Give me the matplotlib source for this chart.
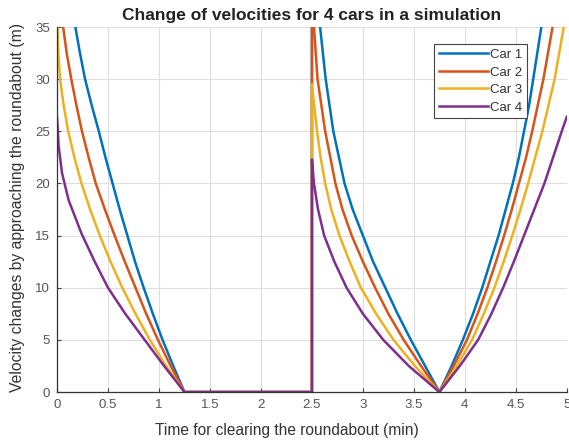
import matplotlib
matplotlib.use("Agg")
import matplotlib.pyplot as plt

# ---- data (time in min, value in m) ----
# Car 1
car1_t = [0.00, 0.18, 0.225, 0.275, 0.34, 0.41, 0.475, 0.545, 0.615, 0.69, 0.765, 0.85, 0.94, 1.035, 1.14, 1.25,
          2.50,
          2.50, 2.58, 2.635, 2.71, 2.82, 2.90, 3.00, 3.10, 3.22, 3.34, 3.47, 3.61, 3.75,
          3.87, 3.98, 4.08, 4.17, 4.25, 4.33, 4.40, 4.47, 4.53, 4.58, 4.63, 4.67, 4.75, 5.00]
car1_v = [46.0, 35.0, 32.5, 30.0, 27.5, 25.0, 22.5, 20.0, 17.5, 15.0, 12.5, 10.0, 7.5, 5.0, 2.5, 0.0,
          0.0,
          41.0, 35.0, 30.0, 25.0, 20.0, 17.5, 15.0, 12.5, 10.0, 7.5, 5.0, 2.5, 0.0,
          2.5, 5.0, 7.5, 10.0, 12.5, 15.0, 17.5, 20.0, 22.5, 25.0, 27.5, 30.0, 35.0, 55.0]

# Car 2
car2_t = [0.00, 0.06, 0.095, 0.14, 0.19, 0.245, 0.31, 0.38, 0.47, 0.565, 0.665, 0.77, 0.875, 0.99, 1.115, 1.25,
          2.50,
          2.50, 2.52, 2.555, 2.63, 2.73, 2.80, 2.89, 3.00, 3.12, 3.25, 3.40, 3.57, 3.75,
          3.89, 4.02, 4.125, 4.22, 4.305, 4.385, 4.46, 4.53, 4.60, 4.66, 4.715, 4.77, 4.86, 5.00]
car2_v = [39.0, 35.0, 32.5, 30.0, 27.5, 25.0, 22.5, 20.0, 17.5, 15.0, 12.5, 10.0, 7.5, 5.0, 2.5, 0.0,
          0.0,
          36.5, 35.0, 30.0, 25.0, 20.0, 17.5, 15.0, 12.5, 10.0, 7.5, 5.0, 2.5, 0.0,
          2.5, 5.0, 7.5, 10.0, 12.5, 15.0, 17.5, 20.0, 22.5, 25.0, 27.5, 30.0, 35.0, 45.0]

# Car 3
car3_t = [0.00, 0.005, 0.013, 0.03, 0.065, 0.11, 0.17, 0.24, 0.325, 0.42, 0.525, 0.64, 0.77, 0.91, 1.07, 1.25,
          2.50,
          2.50, 2.55, 2.585, 2.63, 2.69, 2.77, 2.87, 2.98, 3.13, 3.30, 3.51, 3.75,
          3.92, 4.07, 4.185, 4.29, 4.38, 4.465, 4.545, 4.62, 4.69, 4.76, 4.82, 4.88, 4.97, 5.00]
car3_v = [35.5, 35.0, 32.5, 30.0, 27.5, 25.0, 22.5, 20.0, 17.5, 15.0, 12.5, 10.0, 7.5, 5.0, 2.5, 0.0,
          0.0,
          29.5, 25.0, 22.5, 20.0, 17.5, 15.0, 12.5, 10.0, 7.5, 5.0, 2.5, 0.0,
          2.5, 5.0, 7.5, 10.0, 12.5, 15.0, 17.5, 20.0, 22.5, 25.0, 27.5, 30.0, 35.0, 37.0]

# Car 4
car4_t = [0.00, 0.016, 0.049, 0.114, 0.24, 0.37, 0.50, 0.67, 0.86, 1.05, 1.25,
          2.50,
          2.50, 2.52, 2.56, 2.62, 2.72, 2.84, 3.00, 3.20, 3.45, 3.75,
          3.95, 4.13, 4.26, 4.375, 4.48, 4.58, 4.68, 4.78, 4.865, 4.95, 5.00]
car4_v = [26.4, 23.6, 21.0, 18.4, 15.2, 12.5, 10.0, 7.5, 5.0, 2.5, 0.0,
          0.0,
          22.3, 20.0, 17.5, 15.0, 12.5, 10.0, 7.5, 5.0, 2.5, 0.0,
          2.5, 5.0, 7.5, 10.0, 12.5, 15.0, 17.5, 20.0, 22.5, 25.0, 26.4]

labels = ["Car 1", "Car 2", "Car 3", "Car 4"]
colors = ["#0072BD", "#D95319", "#EDB120", "#7E2F8E"]

x_ticks = [0, 0.5, 1, 1.5, 2, 2.5, 3, 3.5, 4, 4.5, 5]
x_tick_labels = ["0", "0.5", "1", "1.5", "2", "2.5", "3", "3.5", "4", "4.5", "5"]
y_ticks = [0, 5, 10, 15, 20, 25, 30, 35]

plt.rcParams['font.family'] = ['Liberation Sans', 'DejaVu Sans']

fig = plt.figure(figsize=(5.69, 4.40), dpi=100)
ax = fig.add_axes([0.1002, 0.109, 0.896, 0.8296])

series = [(car1_t, car1_v), (car2_t, car2_v), (car3_t, car3_v), (car4_t, car4_v)]
for (t, v), lab, col in zip(series, labels, colors):
    ax.plot(t, v, color=col, lw=1.8, label=lab, solid_joinstyle='round')

ax.set_xlim(0, 5)
ax.set_ylim(0, 35)
ax.set_xticks(x_ticks)
ax.set_xticklabels(x_tick_labels)
ax.set_yticks(y_ticks)
ax.grid(True, color='#dedede', lw=0.8)
ax.set_axisbelow(True)
ax.tick_params(direction='in', length=3, width=0.8, colors='#444444',
               labelsize=9.5, labelcolor='#555555', pad=5)
for s in ['top', 'right']:
    ax.spines[s].set_visible(False)
for s in ['left', 'bottom']:
    ax.spines[s].set_color('#333333')
    ax.spines[s].set_linewidth(0.9)

ax.set_title("Change of velocities for 4 cars in a simulation",
             fontsize=12.5, fontweight='bold', color='#222222', pad=5)
ax.set_xlabel("Time for clearing the roundabout (min)", fontsize=11.2,
              color='#333333')
ax.xaxis.set_label_coords(0.45, -0.085)
ax.set_ylabel("Velocity changes by approaching the roundabout (m)",
              fontsize=11.3, color='#333333')
ax.yaxis.set_label_coords(-0.062, 0.505)

leg = ax.legend(loc='upper right', bbox_to_anchor=(0.922, 0.953), fontsize=9.5,
                handlelength=3.7, handletextpad=0.2, labelspacing=0.4,
                borderpad=0.35, borderaxespad=0, fancybox=False, framealpha=1)
leg.get_frame().set_edgecolor('#444444')
leg.get_frame().set_linewidth(0.8)
for txt in leg.get_texts():
    txt.set_color('#333333')

fig.savefig("out.png", dpi=100)
